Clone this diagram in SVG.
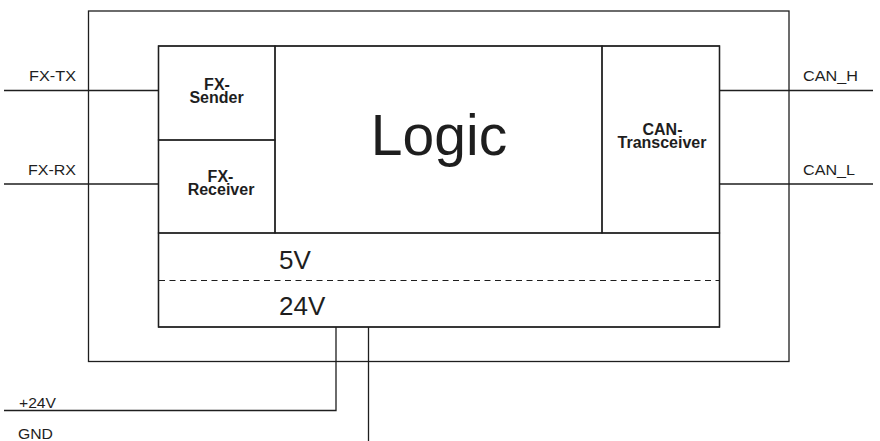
<svg xmlns="http://www.w3.org/2000/svg" width="880" height="441" viewBox="0 0 880 441">
<style>
.ln{fill:none;stroke:#1e1e1e;stroke-width:1.3}
.dash{fill:none;stroke:#1e1e1e;stroke-width:1.2;stroke-dasharray:6 4.5}
.t{font-family:"Liberation Sans",Arial,sans-serif;fill:#1e1e1e}
.s{font-size:15px}
.b{font-size:16px;font-weight:bold;text-anchor:middle}
</style>
<rect width="880" height="441" fill="#ffffff"/>
<g id="housing"><rect class="ln" x="88.5" y="11" width="700.5" height="350.5"/></g>
<g id="board"><rect class="ln" x="158.5" y="46" width="561" height="281"/></g>
<g id="fx-sender">
<rect class="ln" x="158.5" y="46" width="116.5" height="94"/>
<text class="t b" x="217" y="90">FX-</text>
<text class="t b" x="216.5" y="102.5">Sender</text>
</g>
<g id="fx-receiver">
<rect class="ln" x="158.5" y="140" width="116.5" height="93"/>
<text class="t b" x="220.5" y="181.5">FX-</text>
<text class="t b" x="221" y="194.5">Receiver</text>
</g>
<g id="logic">
<rect class="ln" x="275" y="46" width="327" height="187"/>
<text class="t" x="439" y="155" font-size="57" text-anchor="middle">Logic</text>
</g>
<g id="can-transceiver">
<rect class="ln" x="602" y="46" width="117.5" height="187"/>
<text class="t b" x="662.5" y="135">CAN-</text>
<text class="t b" x="662" y="147.5">Transceiver</text>
</g>
<g id="power">
<rect class="ln" x="158.5" y="233" width="561" height="94"/>
<line class="dash" x1="159" y1="280.5" x2="719" y2="280.5"/>
<text class="t" x="279" y="268.5" font-size="26">5V</text>
<text class="t" x="279" y="314.5" font-size="26">24V</text>
</g>
<g id="connectors">
<line class="ln" x1="4" y1="90.5" x2="158.5" y2="90.5"/>
<line class="ln" x1="4" y1="184" x2="158.5" y2="184"/>
<line class="ln" x1="719.5" y1="90.5" x2="873" y2="90.5"/>
<line class="ln" x1="719.5" y1="184" x2="873" y2="184"/>
<polyline class="ln" points="336,327 336,410.5 4,410.5"/>
<line class="ln" x1="368.5" y1="327" x2="368.5" y2="441"/>
</g>
<g id="labels">
<text class="t s" x="76" y="81" text-anchor="end" textLength="47" lengthAdjust="spacingAndGlyphs">FX-TX</text>
<text class="t s" x="76" y="175" text-anchor="end" textLength="48" lengthAdjust="spacingAndGlyphs">FX-RX</text>
<text class="t s" x="803" y="81" textLength="55" lengthAdjust="spacingAndGlyphs">CAN_H</text>
<text class="t s" x="803" y="175" textLength="52" lengthAdjust="spacingAndGlyphs">CAN_L</text>
<text class="t s" x="19" y="408" textLength="37" lengthAdjust="spacingAndGlyphs">+24V</text>
<text class="t s" x="18" y="439" textLength="35" lengthAdjust="spacingAndGlyphs">GND</text>
</g>
</svg>
